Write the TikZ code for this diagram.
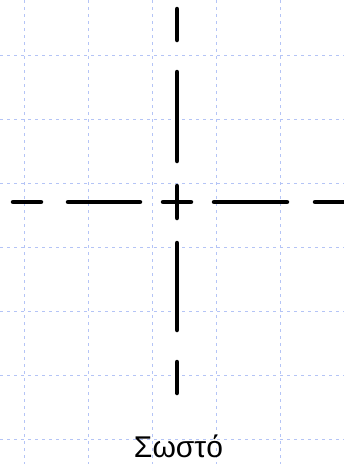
\documentclass[tikz,border=0pt]{standalone}
\usepackage{xcolor}
\usepackage{fontspec}
\setmainfont{Liberation Sans}
\usepackage{tikz}
\usetikzlibrary{positioning}
\definecolor{gridblue}{RGB}{180, 196, 246}
\definecolor{inkblack}{RGB}{0, 0, 0}

\begin{document}
\begin{tikzpicture}[
    x=1pt, y=-1pt,
    gridline/.style={gridblue, line width=1pt, dash pattern=on 3pt off 4pt},
    centerline/.style={inkblack, line width=4.5pt, line cap=round}
]
\useasboundingbox (0,0) rectangle (344,464);

% Background grid
\draw[gridline] (24,0) -- (24,464);
\draw[gridline] (88,0) -- (88,464);
\draw[gridline] (152,0) -- (152,464);
\draw[gridline] (216,0) -- (216,464);
\draw[gridline] (280,0) -- (280,464);
\draw[gridline] (0,55) -- (344,55);
\draw[gridline] (0,119) -- (344,119);
\draw[gridline] (0,183) -- (344,183);
\draw[gridline] (0,247) -- (344,247);
\draw[gridline] (0,311) -- (344,311);
\draw[gridline] (0,375) -- (344,375);
\draw[gridline] (0,439) -- (344,439);

% Horizontal centre line
\draw[centerline] (13,202) -- (41,202);
\draw[centerline] (68,202) -- (140,202);
\draw[centerline] (163,202) -- (191,202);
\draw[centerline] (214,202) -- (287,202);
\draw[centerline] (315,202) -- (350,202);

% Vertical centre line
\draw[centerline] (177,9) -- (177,40);
\draw[centerline] (177,72) -- (177,161);
\draw[centerline] (177,186) -- (177,218);
\draw[centerline] (177,243) -- (177,330);
\draw[centerline] (177,362) -- (177,393);

% Caption
\node[anchor=base, inner sep=0pt, font=\fontsize{30}{34}\selectfont] (caption) at (178.5,457) {Σωστό};
\end{tikzpicture}
\end{document}
